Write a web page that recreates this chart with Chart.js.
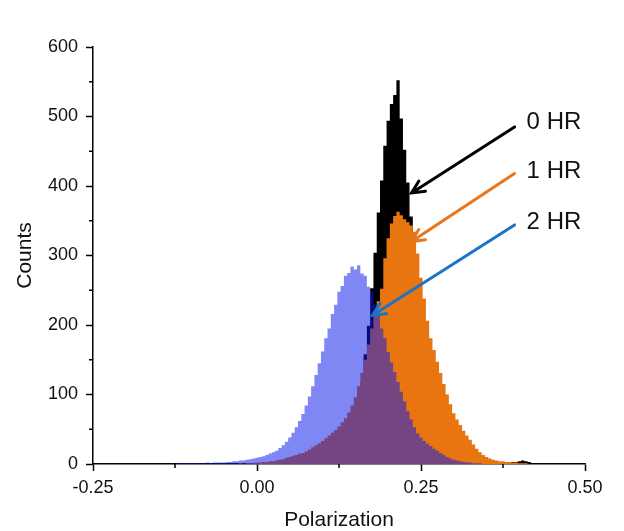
<!DOCTYPE html>
<html>
<head>
<meta charset="utf-8">
<script src="https://cdn.jsdelivr.net/npm/chart.js@4.4.1/dist/chart.umd.min.js"></script>
<style>
  html, body { margin: 0; padding: 0; background: #fff; }
  #wrap { width: 624px; height: 531px; }
</style>
</head>
<body>
<div id="wrap"><canvas id="histChart"></canvas></div>
<script>
// histogram bins: left-most bin centre and bin width (polarization units)
const binStart = -0.15;
const binWidth = 0.005;

// counts per bin (rows of 10 bins = 0.05 each, starting at -0.15)
const counts0hr = [
  0, 0, 0, 0, 0, 0, 0, 0, 0, 0,
  0, 0, 0, 0, 0, 0, 0, 0, 0, 0,
  0, 0, 0, 0, 0, 0, 0, 0, 0, 1,
  1, 1, 1, 2, 1, 2, 2, 2, 3, 2,
  3, 3, 2, 3, 4, 3, 4, 4, 5, 4,
  5, 5, 6, 6, 7, 9, 13, 19, 29, 43,
  62, 87, 117, 158, 199, 253, 304, 362, 408, 458,
  494, 518, 531, 552, 497, 452, 405, 356, 302, 249,
  201, 156, 118, 86, 61, 42, 28, 19, 13, 9,
  7, 6, 5, 4, 4, 3, 3, 3, 2, 3,
  2, 2, 2, 3, 2, 3, 2, 3, 3, 3,
  4, 5, 4, 3, 1
];
const counts1hr = [
  0, 0, 0, 0, 0, 0, 0, 0, 0, 0,
  0, 0, 0, 0, 0, 0, 0, 0, 0, 0,
  0, 0, 0, 0, 0, 1, 0, 1, 1, 1,
  2, 2, 3, 3, 4, 4, 5, 6, 7, 9,
  10, 12, 13, 15, 16, 18, 21, 24, 27, 30,
  33, 37, 41, 45, 49, 54, 60, 66, 74, 84,
  96, 112, 131, 150, 172, 195, 214, 234, 252, 296,
  325, 346, 357, 363, 358, 352, 348, 343, 334, 303,
  268, 238, 206, 181, 164, 147, 131, 115, 100, 86,
  73, 64, 56, 48, 41, 35, 28, 22, 17, 13,
  10, 8, 6, 5, 4, 4, 3, 3, 2, 2,
  1, 1, 1, 0, 0
];
const counts2hr = [
  0, 0, 0, 0, 1, 0, 1, 1, 1, 1,
  1, 1, 1, 1, 1, 2, 1, 2, 2, 2,
  2, 3, 3, 4, 4, 5, 5, 6, 7, 8,
  9, 10, 11, 13, 15, 17, 19, 23, 27, 32,
  38, 45, 53, 62, 72, 84, 97, 112, 128, 145,
  162, 181, 195, 216, 229, 248, 256, 271, 275, 284,
  280, 286, 274, 271, 255, 248, 229, 216, 195, 181,
  161, 146, 132, 118, 104, 90, 76, 64, 53, 44,
  38, 33, 29, 26, 22, 19, 16, 13, 10, 8,
  6, 5, 4, 3, 2, 2, 1, 1, 1, 0,
  0, 0, 0, 0, 0, 0, 0, 0, 0, 0,
  0, 0, 0, 0, 0
];

const seriesLabels = ['0 HR', '1 HR', '2 HR'];

// arrow annotations in data units: label position, arrow tail, arrow tip
const labelX = 0.411;
const labelY = [492, 421, 347];
const arrowTail = [[0.3926, 485], [0.3926, 418], [0.3926, 344]];
const arrowTip = [[0.2356, 390], [0.2356, 320], [0.1763, 214]];
const arrowColors = ['#000000', '#E8761E', '#1C74C4'];

const FONT = "'Liberation Sans', Arial, sans-serif";

function toPoints(counts) {
  return counts.map((c, i) => ({ x: binStart + i * binWidth, y: c }));
}

function histDataset(label, counts, color) {
  return {
    label: label,
    data: toPoints(counts),
    stepped: 'middle',
    fill: 'origin',
    backgroundColor: color,
    borderColor: color,
    borderWidth: 0,
    pointRadius: 0,
  };
}

// minor ticks halfway between major ticks
const minorTicks = {
  id: 'minorTicks',
  afterDraw(chart) {
    const ctx = chart.ctx;
    const xs = chart.scales.x, ys = chart.scales.y;
    ctx.save();
    ctx.strokeStyle = '#000';
    ctx.lineWidth = 1.5;
    ctx.beginPath();
    for (let i = 0; i < xs.ticks.length - 1; i++) {
      const v = (xs.ticks[i].value + xs.ticks[i + 1].value) / 2;
      const px = xs.getPixelForValue(v);
      ctx.moveTo(px, xs.top);
      ctx.lineTo(px, xs.top + 4);
    }
    for (let i = 0; i < ys.ticks.length - 1; i++) {
      const v = (ys.ticks[i].value + ys.ticks[i + 1].value) / 2;
      const py = ys.getPixelForValue(v);
      ctx.moveTo(ys.right, py);
      ctx.lineTo(ys.right - 4, py);
    }
    ctx.stroke();
    ctx.restore();
  }
};

function drawArrow(ctx, x1, y1, x2, y2, color) {
  const ang = Math.atan2(y2 - y1, x2 - x1);
  const head = 14;
  ctx.strokeStyle = color;
  ctx.lineWidth = 3;
  ctx.lineCap = 'round';
  ctx.beginPath();
  ctx.moveTo(x1, y1);
  ctx.lineTo(x2, y2);
  ctx.moveTo(x2 + head * Math.cos(ang + Math.PI - 0.45), y2 + head * Math.sin(ang + Math.PI - 0.45));
  ctx.lineTo(x2, y2);
  ctx.lineTo(x2 + head * Math.cos(ang + Math.PI + 0.45), y2 + head * Math.sin(ang + Math.PI + 0.45));
  ctx.stroke();
}

const arrowLabels = {
  id: 'arrowLabels',
  afterDraw(chart) {
    const ctx = chart.ctx;
    const xs = chart.scales.x, ys = chart.scales.y;
    ctx.save();
    for (let i = 0; i < seriesLabels.length; i++) {
      drawArrow(ctx,
        xs.getPixelForValue(arrowTail[i][0]), ys.getPixelForValue(arrowTail[i][1]),
        xs.getPixelForValue(arrowTip[i][0]), ys.getPixelForValue(arrowTip[i][1]),
        arrowColors[i]);
      ctx.fillStyle = '#111';
      ctx.font = '24px ' + FONT;
      ctx.textAlign = 'left';
      ctx.textBaseline = 'middle';
      ctx.fillText(seriesLabels[i], xs.getPixelForValue(labelX), ys.getPixelForValue(labelY[i]));
    }
    ctx.restore();
  }
};

const ctx = document.getElementById('histChart').getContext('2d');
const histChart = new Chart(ctx, {
  type: 'line',
  data: {
    datasets: [
      histDataset(seriesLabels[2], counts2hr, 'rgba(10, 25, 235, 0.52)'),
      histDataset(seriesLabels[1], counts1hr, '#E8750F'),
      histDataset(seriesLabels[0], counts0hr, '#000000'),
    ]
  },
  options: {
    responsive: true,
    maintainAspectRatio: false,
    animation: false,
    layout: { padding: { top: 47, right: 39, left: 0, bottom: 0 } },
    plugins: {
      legend: { display: false },
      tooltip: { enabled: false },
    },
    scales: {
      x: {
        type: 'linear',
        min: -0.25,
        max: 0.5,
        afterFit: (scale) => { scale.height = 67; },
        border: { display: true, color: '#000', width: 1.5 },
        grid: { drawOnChartArea: false, color: '#000', tickLength: 7, tickWidth: 1.5 },
        ticks: {
          stepSize: 0.25,
          padding: 6,
          color: '#111',
          font: { family: FONT, size: 18 },
          callback: (v) => v.toFixed(2),
        },
        title: {
          display: true,
          text: 'Polarization',
          color: '#111',
          font: { family: FONT, size: 21, lineHeight: 1 },
          padding: { top: 4, bottom: 0 },
        },
      },
      y: {
        min: 0,
        max: 600,
        afterFit: (scale) => { scale.width = 93; },
        border: { display: true, color: '#000', width: 1.5 },
        grid: { drawOnChartArea: false, color: '#000', tickLength: 7, tickWidth: 1.5 },
        ticks: {
          stepSize: 100,
          padding: 8,
          color: '#111',
          font: { family: FONT, size: 18 },
        },
        title: {
          display: true,
          text: 'Counts',
          color: '#111',
          font: { family: FONT, size: 21 },
          padding: { top: 13, bottom: 0 },
        },
      },
    },
  },
  plugins: [minorTicks, arrowLabels],
});
</script>
</body>
</html>
